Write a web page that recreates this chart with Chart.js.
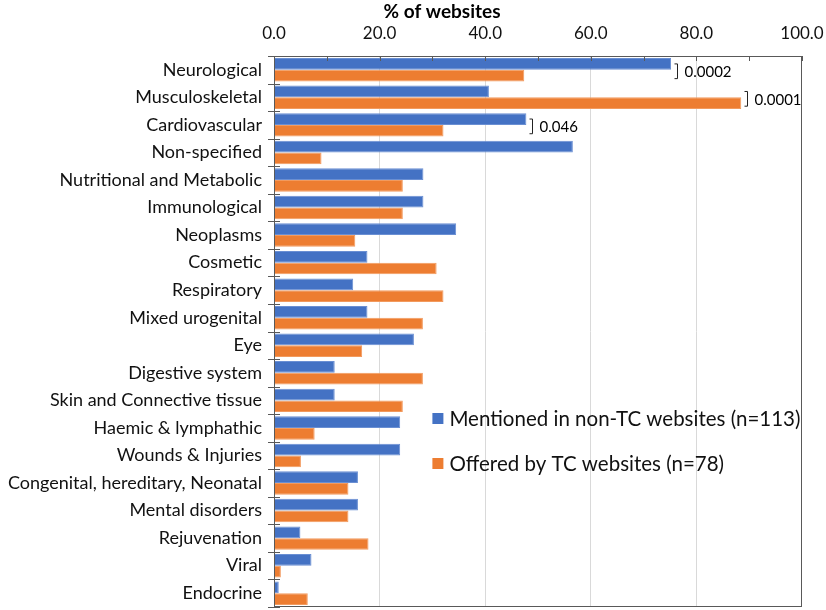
<!DOCTYPE html>
<html>
<head>
<meta charset="utf-8">
<script src="https://cdn.jsdelivr.net/npm/chart.js"></script>
<style>
  body { margin: 0; background: #fff; }
  #wrap { width: 826px; height: 610px; }
</style>
</head>
<body>
<div id="wrap"><canvas id="barChart" width="826" height="610"></canvas></div>
<script>
const categories = [
  'Neurological', 'Musculoskeletal', 'Cardiovascular', 'Non-specified',
  'Nutritional and Metabolic', 'Immunological', 'Neoplasms', 'Cosmetic',
  'Respiratory', 'Mixed urogenital', 'Eye', 'Digestive system',
  'Skin and Connective tissue', 'Haemic & lymphathic', 'Wounds & Injuries',
  'Congenital, hereditary, Neonatal', 'Mental disorders', 'Rejuvenation',
  'Viral', 'Endocrine'
];
const nonTcValues = [75.2, 40.7, 47.8, 56.6, 28.3, 28.3, 34.5, 17.7, 15.0, 17.7,
                     26.5, 11.5, 11.5, 23.9, 23.9, 15.9, 15.9, 5.0, 7.1, 0.9];
const tcValues = [47.4, 88.5, 32.1, 9.0, 24.4, 24.4, 15.4, 30.8, 32.1, 28.2,
                  16.7, 28.2, 24.4, 7.7, 5.1, 14.1, 14.1, 17.9, 1.3, 6.4];
const pValues = ['0.0002', '0.0001', '0.046'];
const seriesLabels = ['Mentioned in non-TC websites (n=113)', 'Offered by TC websites (n=78)'];
const xTicks = [0, 20, 40, 60, 80, 100];

const BLUE = '#4472C4';
const ORANGE = '#ED7D31';
const FONT = 'Lato, "Open Sans", sans-serif';

// boxes, inner ticks, title, legend and p-value brackets
const extras = {
  id: 'extras',
  afterDraw(chart) {
    const ctx = chart.ctx;
    const area = chart.chartArea;
    const x = chart.scales.x;
    ctx.save();

    ctx.strokeStyle = '#595959';
    ctx.lineWidth = 1;
    ctx.strokeRect(area.left + 0.5, area.top + 0.5, area.right - area.left - 1, area.bottom - area.top - 1);

    // inside ticks on the top axis, every 10
    ctx.beginPath();
    for (let v = 0; v <= 100; v += 10) {
      const px = Math.round(x.getPixelForValue(v)) + 0.5;
      ctx.moveTo(px, area.top);
      ctx.lineTo(px, area.top + 5);
    }
    // crossing ticks between categories
    const step = (area.bottom - area.top) / categories.length;
    for (let i = 0; i <= categories.length; i++) {
      const py = Math.round(area.top + i * step) + 0.5;
      ctx.moveTo(area.left - 6, py);
      ctx.lineTo(area.left + 6, py);
    }
    ctx.stroke();

    // title
    ctx.fillStyle = '#000';
    ctx.font = 'bold 19px ' + FONT;
    ctx.textAlign = 'center';
    ctx.textBaseline = 'middle';
    ctx.fillText('% of websites', chart.width / 2 + 29, 12);

    // p-value brackets
    const m0 = chart.getDatasetMeta(0).data;
    const m1 = chart.getDatasetMeta(1).data;
    ctx.font = '15px ' + FONT;
    ctx.textAlign = 'left';
    pValues.forEach((p, i) => {
      if (!p) return;
      const bx = Math.round(Math.max(m0[i].x, m1[i].x) + 6) + 0.5;
      const y1 = m0[i].y;
      const y2 = m1[i].y + 3;
      ctx.beginPath();
      ctx.moveTo(bx - 3, y1);
      ctx.lineTo(bx, y1);
      ctx.lineTo(bx, y2);
      ctx.lineTo(bx - 3, y2);
      ctx.strokeStyle = '#222';
      ctx.stroke();
      ctx.fillText(p, bx + 7, (y1 + y2) / 2 + 1);
    });

    // legend inside the plot
    const lx = x.getPixelForValue(30);
    const ly = area.top + 363;
    ctx.font = '20.5px ' + FONT;
    ctx.textBaseline = 'middle';
    chart.data.datasets.forEach((ds, i) => {
      const cy = ly + i * 45;
      ctx.fillStyle = ds.backgroundColor;
      ctx.fillRect(lx, cy - 6, 11, 11);
      ctx.fillStyle = '#111';
      ctx.fillText(ds.label, lx + 17, cy);
    });
    ctx.restore();
  }
};

document.addEventListener('DOMContentLoaded', function() {
  const ctx = document.getElementById('barChart').getContext('2d');

  const data = {
    labels: categories,
    datasets: [{
      label: seriesLabels[0],
      data: nonTcValues,
      backgroundColor: BLUE,
      borderColor: '#6a8fd3',
      borderWidth: 1,
      categoryPercentage: 0.85,
      barPercentage: 1.0
    }, {
      label: seriesLabels[1],
      data: tcValues,
      backgroundColor: ORANGE,
      borderColor: '#f29a5e',
      borderWidth: 1,
      categoryPercentage: 0.85,
      barPercentage: 1.0
    }]
  };

  const config = {
    type: 'bar',
    data: data,
    options: {
      indexAxis: 'y',
      responsive: false,
      animation: false,
      layout: { padding: { top: 0, right: 24, bottom: 3, left: 0 } },
      scales: {
        x: {
          position: 'top',
          min: 0,
          max: 100,
          afterFit: s => { s.height = 56; s.paddingLeft = 0; s.paddingRight = 0; },
          border: { display: false },
          grid: {
            drawTicks: false,
            color: c => (c.tick && xTicks.includes(c.tick.value) && c.tick.value > 0 && c.tick.value < 100)
              ? '#d9d9d9' : 'rgba(0,0,0,0)'
          },
          ticks: {
            stepSize: 10,
            autoSkip: false,
            maxRotation: 0,
            padding: 12,
            color: '#111',
            font: { family: FONT, size: 17 },
            callback: v => xTicks.includes(v) ? v.toFixed(1) : ''
          }
        },
        y: {
          afterFit: s => { s.width = 274; s.paddingTop = 0; s.paddingBottom = 0; },
          border: { display: false },
          grid: { display: false, drawTicks: false },
          ticks: {
            padding: 12,
            autoSkip: false,
            color: '#111',
            font: { family: FONT, size: 18 }
          }
        }
      },
      plugins: {
        legend: { display: false },
        tooltip: { enabled: false }
      }
    },
    plugins: [extras]
  };

  const barChart = new Chart(ctx, config);
});
</script>
</body>
</html>
